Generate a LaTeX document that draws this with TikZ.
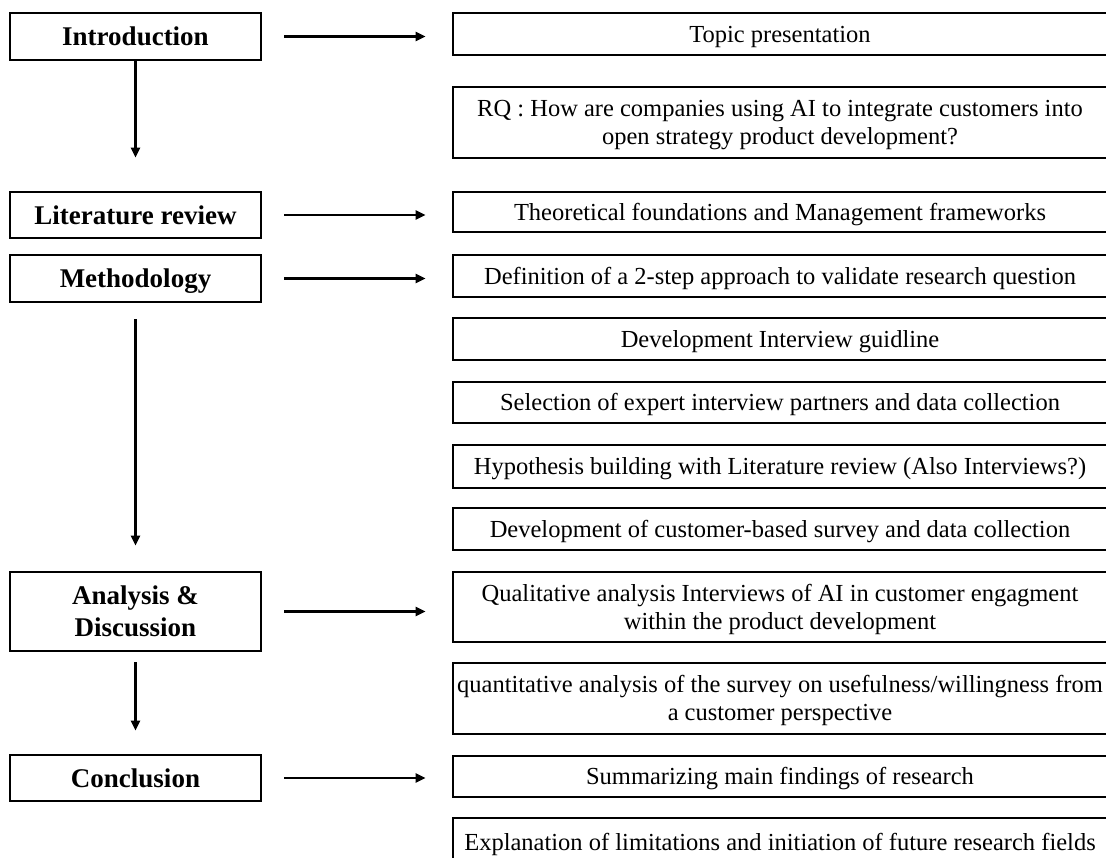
\documentclass[tikz,border=0pt]{standalone}
\usepackage{fontspec}
\setmainfont{Liberation Serif}
\usetikzlibrary{arrows.meta}
\tikzset{
  leftbox/.style={draw=black, line width=2.8pt, minimum width=251pt, inner sep=0pt, align=center,
    font=\fontsize{27}{32}\selectfont\bfseries, text height=18pt, text depth=0pt},
  lefttwo/.style={leftbox, text height=50pt, text depth=0pt},
  rightbox/.style={draw=black, line width=2.8pt, minimum width=654pt, inner sep=0pt, align=center,
    font=\fontsize{24.5}{28}\selectfont, text height=16pt, text depth=0pt},
  righttwo/.style={rightbox, text height=44pt, text depth=0pt},
  conn/.style={line width=2.3pt, -{Triangle[length=10pt,width=9pt]}}
}
\begin{document}
\begin{tikzpicture}[x=1pt,y=-1pt]
\useasboundingbox (0,0) rectangle (1106,857);
\clip (0,0) rectangle (1106,857);
\fill[white] (0,0) rectangle (1106,857);
% left column
\node[leftbox, minimum height=47pt] (intro) at (135.5,36.5) {Introduction};
\node[leftbox, minimum height=46pt] (lit) at (135.5,215) {Literature review};
\node[leftbox, minimum height=47pt] (meth) at (135.5,278.5) {Methodology};
\node[lefttwo, minimum height=79pt] (ana) at (135.5,611.5) {Analysis \&\\Discussion};
\node[leftbox, minimum height=46pt] (concl) at (135.5,778) {Conclusion};
% right column
\node[rightbox, minimum height=42pt] (topic) at (780,34) {Topic presentation};
\node[righttwo, minimum height=71pt] (rq) at (780,122.5) {RQ : How are companies using AI to integrate customers into\\open strategy product development?};
\node[rightbox, minimum height=40pt] (theo) at (780,212) {Theoretical foundations and Management frameworks};
\node[rightbox, minimum height=42pt] (def) at (780,276) {Definition of a 2-step approach to validate research question};
\node[rightbox, minimum height=42pt] (devint) at (780,339) {Development Interview guidline};
\node[rightbox, minimum height=41pt] (sel) at (780,402.5) {Selection of expert interview partners and data collection};
\node[rightbox, minimum height=43pt] (hyp) at (780,466.5) {Hypothesis building with Literature review (Also Interviews?)};
\node[rightbox, minimum height=42pt] (survey) at (780,529) {Development of customer-based survey and data collection};
\node[righttwo, minimum height=70pt] (qual) at (780,607) {Qualitative analysis Interviews of AI in customer engagment\\within the product development};
\node[righttwo, minimum height=71pt] (quant) at (780,698.5) {quantitative analysis of the survey on usefulness/willingness from\\a customer perspective};
\node[rightbox, minimum height=41pt] (summ) at (780,776.5) {Summarizing main findings of research};
\node[rightbox, minimum height=48pt] (expl) at (780,842) {Explanation of limitations and initiation of future research fields};
% horizontal connectors
\draw[conn, shorten <=22pt, shorten >=26pt] (intro.east) -- (intro.east -| topic.west);
\draw[conn, shorten <=22pt, shorten >=26pt] (lit.east) -- (lit.east -| theo.west);
\draw[conn, shorten <=22pt, shorten >=26pt] (meth.east) -- (meth.east -| def.west);
\draw[conn, shorten <=22pt, shorten >=26pt] (ana.east) -- (ana.east -| qual.west);
\draw[conn, shorten <=22pt, shorten >=26pt] (concl.east) -- (concl.east -| summ.west);
% vertical connectors
\draw[conn, shorten >=33pt] (intro.south) -- (lit.north);
\draw[conn, shorten <=16pt, shorten >=25pt] (meth.south) -- (ana.north);
\draw[conn, shorten <=10pt, shorten >=23pt] (ana.south) -- (concl.north);
\end{tikzpicture}
\end{document}
